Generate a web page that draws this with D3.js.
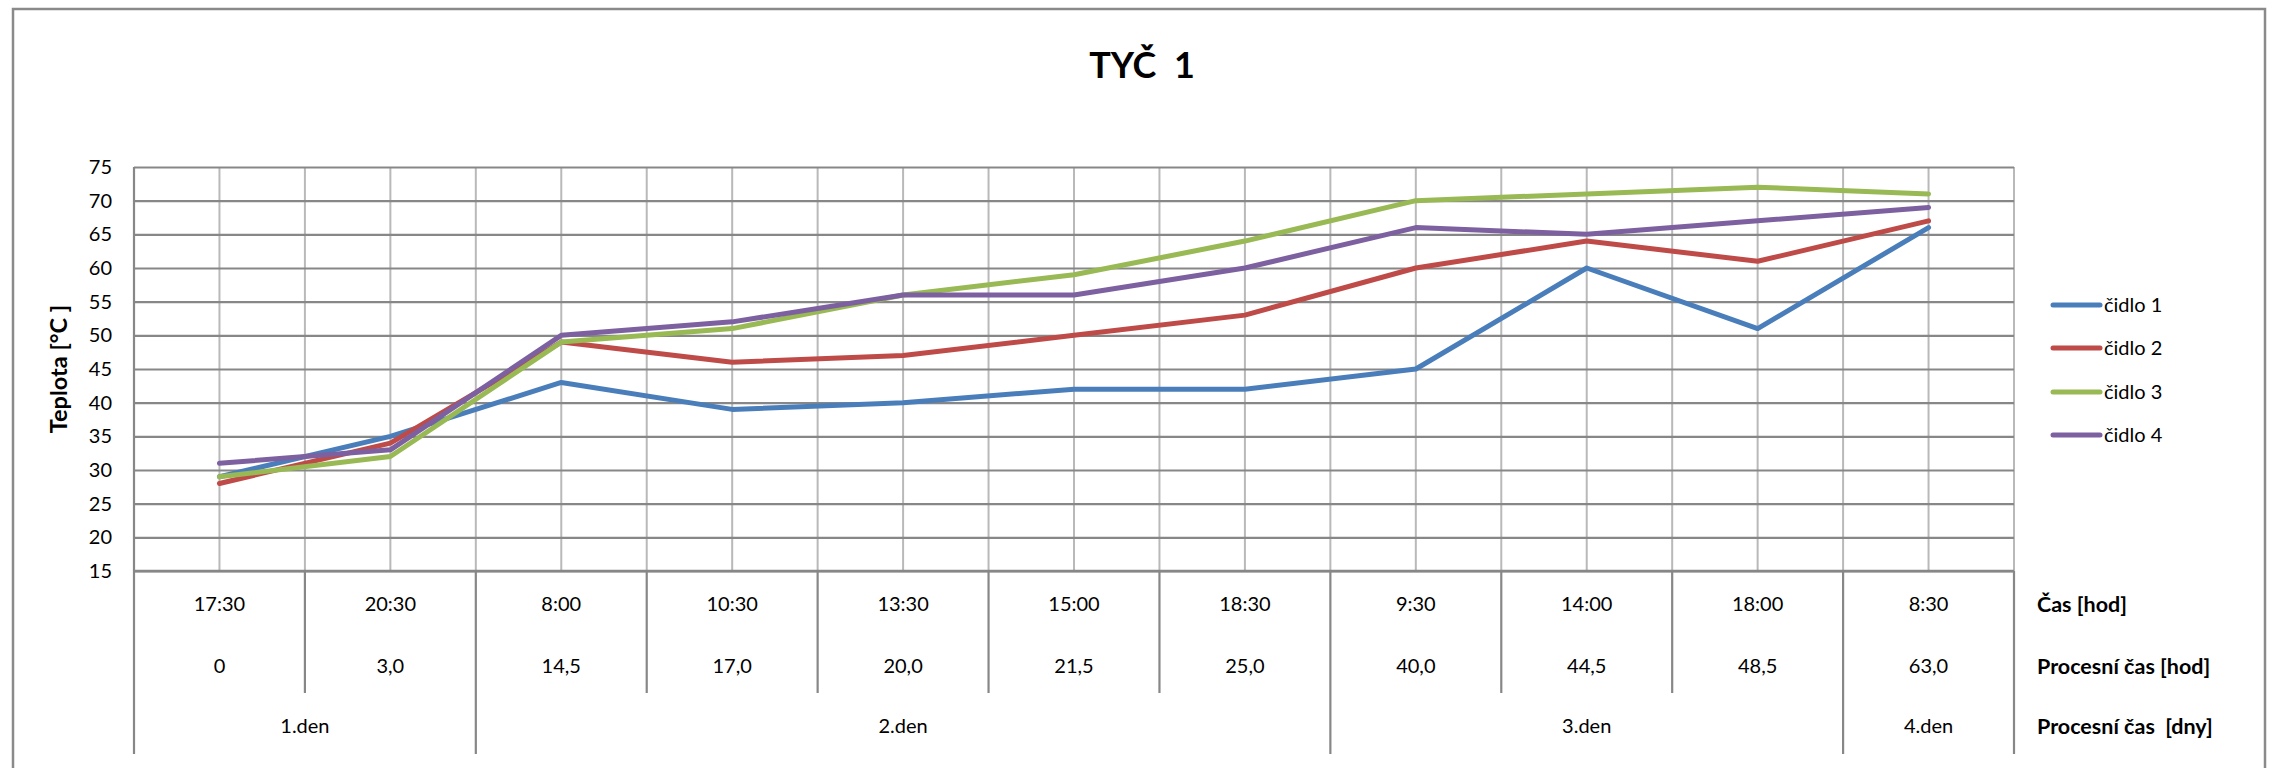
<!DOCTYPE html>
<html>
<head>
<meta charset="utf-8">
<script src="https://cdn.jsdelivr.net/npm/d3@7/dist/d3.min.js"></script>
<style>
  html, body { margin: 0; padding: 0; background: #fff; }
  svg { display: block; font-family: Lato, "Open Sans", sans-serif; }
</style>
</head>
<body>
<svg id="chart" width="2269" height="768"></svg>
<script>
const categories = ["17:30","20:30","8:00","10:30","13:30","15:00","18:30","9:30","14:00","18:00","8:30"];
const processHours = ["0","3,0","14,5","17,0","20,0","21,5","25,0","40,0","44,5","48,5","63,0"];
const days = [
  {label: "1.den", start: 0, end: 2},
  {label: "2.den", start: 2, end: 7},
  {label: "3.den", start: 7, end: 10},
  {label: "4.den", start: 10, end: 11}
];
const sensor1 = [29, 35, 43, 39, 40, 42, 42, 45, 60, 51, 66];
const sensor2 = [28, 34, 49, 46, 47, 50, 53, 60, 64, 61, 67];
const sensor3 = [29, 32, 49, 51, 56, 59, 64, 70, 71, 72, 71];
const sensor4 = [31, 33, 50, 52, 56, 56, 60, 66, 65, 67, 69];
const seriesNames = ["čidlo 1","čidlo 2","čidlo 3","čidlo 4"];
const seriesColors = ["#4a7ebb","#be4b48","#98b954","#7d60a0"];
const yTicks = [15,20,25,30,35,40,45,50,55,60,65,70,75];
const rowLabels = ["Čas [hod]", "Procesní čas [hod]", "Procesní čas  [dny]"];
const titleText = "TYČ  1";
const yTitle = "Teplota [°C ]";

const series = [sensor1, sensor2, sensor3, sensor4].map((v, i) => ({name: seriesNames[i], color: seriesColors[i], values: v}));

const svg = d3.select("#chart");
const L = 134, R = 2014, T = 167, B = 571;
const x = d3.scaleBand().domain(categories).range([L, R]).padding(0);
const y = d3.scaleLinear().domain([15, 75]).range([B, T]);
const bw = x.bandwidth();

// outer border
svg.append("rect").attr("x", 13).attr("y", 9).attr("width", 2252).attr("height", 775)
  .attr("fill", "#fff").attr("stroke", "#8a8a8a").attr("stroke-width", 2.5);

// title
svg.append("text").attr("x", 1142).attr("y", 78).attr("text-anchor", "middle")
  .attr("font-size", 36).attr("font-weight", "bold").attr("fill", "#000")
  .style("white-space", "pre").text(titleText);

// vertical gridlines (centers and boundaries)
const vlines = [];
categories.forEach((c, i) => {
  vlines.push(x(c) + bw / 2);
  if (i > 0) vlines.push(x(c));
});
vlines.push(R);
svg.append("g").selectAll("line").data(vlines).join("line")
  .attr("x1", d => d).attr("x2", d => d).attr("y1", T).attr("y2", B)
  .attr("stroke", "#b9b9b9").attr("stroke-width", 2);

// horizontal gridlines via axis
const gridAxis = d3.axisLeft(y).tickValues(yTicks).tickSize(-(R - L)).tickFormat("");
const gg = svg.append("g").attr("transform", `translate(${L},0)`).call(gridAxis);
gg.select(".domain").remove();
gg.selectAll("line").attr("stroke", "#878787").attr("stroke-width", 2.2);

// y axis labels
const yAxis = d3.axisLeft(y).tickValues(yTicks).tickSize(0).tickPadding(22);
const ya = svg.append("g").attr("transform", `translate(${L},0)`).call(yAxis);
ya.select(".domain").remove();
ya.selectAll("text").attr("font-size", 20).attr("fill", "#000").attr("font-family", "Lato, sans-serif");

// axis / table frame lines
svg.append("line").attr("x1", L).attr("x2", L).attr("y1", T).attr("y2", 754)
  .attr("stroke", "#878787").attr("stroke-width", 2.2);
svg.append("line").attr("x1", R).attr("x2", R).attr("y1", B).attr("y2", 754)
  .attr("stroke", "#878787").attr("stroke-width", 2.2);
svg.append("line").attr("x1", L).attr("x2", R).attr("y1", B).attr("y2", B)
  .attr("stroke", "#878787").attr("stroke-width", 2.6);

// y axis title
svg.append("text").attr("transform", `translate(67,${(T + B) / 2}) rotate(-90)`)
  .attr("text-anchor", "middle").attr("font-size", 23.5).attr("font-weight", "bold")
  .text(yTitle);

// table separators between categories
const dayBounds = new Set(days.map(d => d.start));
categories.forEach((c, i) => {
  if (i === 0) return;
  const isDay = dayBounds.has(i);
  svg.append("line").attr("x1", x(c)).attr("x2", x(c)).attr("y1", B).attr("y2", isDay ? 754 : 693)
    .attr("stroke", "#878787").attr("stroke-width", 2.2);
});

// table text rows
const rowY = [604, 666, 726];
svg.append("g").selectAll("text").data(categories).join("text")
  .attr("x", d => x(d) + bw / 2).attr("y", rowY[0]).attr("dy", "0.35em")
  .attr("text-anchor", "middle").attr("font-size", 20).text(d => d);
svg.append("g").selectAll("text").data(processHours).join("text")
  .attr("x", (d, i) => x(categories[i]) + bw / 2).attr("y", rowY[1]).attr("dy", "0.35em")
  .attr("text-anchor", "middle").attr("font-size", 20).text(d => d);
svg.append("g").selectAll("text").data(days).join("text")
  .attr("x", d => (x(categories[d.start]) + (d.end < categories.length ? x(categories[d.end]) : R)) / 2)
  .attr("y", rowY[2]).attr("dy", "0.35em")
  .attr("text-anchor", "middle").attr("font-size", 20).text(d => d.label);

// row labels
svg.append("g").selectAll("text").data(rowLabels).join("text")
  .attr("x", 2037).attr("y", (d, i) => rowY[i]).attr("dy", "0.35em")
  .attr("font-size", 21.5).attr("font-weight", "bold").style("white-space", "pre").text(d => d);

// lines
const line = d3.line().x((d, i) => x(categories[i]) + bw / 2).y(d => y(d));
svg.append("g").selectAll("path").data(series).join("path")
  .attr("d", d => line(d.values)).attr("fill", "none")
  .attr("stroke", d => d.color).attr("stroke-width", 5)
  .attr("stroke-linejoin", "round").attr("stroke-linecap", "round");

// legend
const legY = [305, 348, 392, 435];
const lg = svg.append("g").selectAll("g").data(series).join("g")
  .attr("transform", (d, i) => `translate(2053,${legY[i]})`);
lg.append("line").attr("x1", 0).attr("x2", 47).attr("y1", 0).attr("y2", 0)
  .attr("stroke", d => d.color).attr("stroke-width", 5).attr("stroke-linecap", "round");
lg.append("text").attr("x", 51).attr("y", 0).attr("dy", "0.35em").attr("font-size", 20).text(d => d.name);
</script>
</body>
</html>
